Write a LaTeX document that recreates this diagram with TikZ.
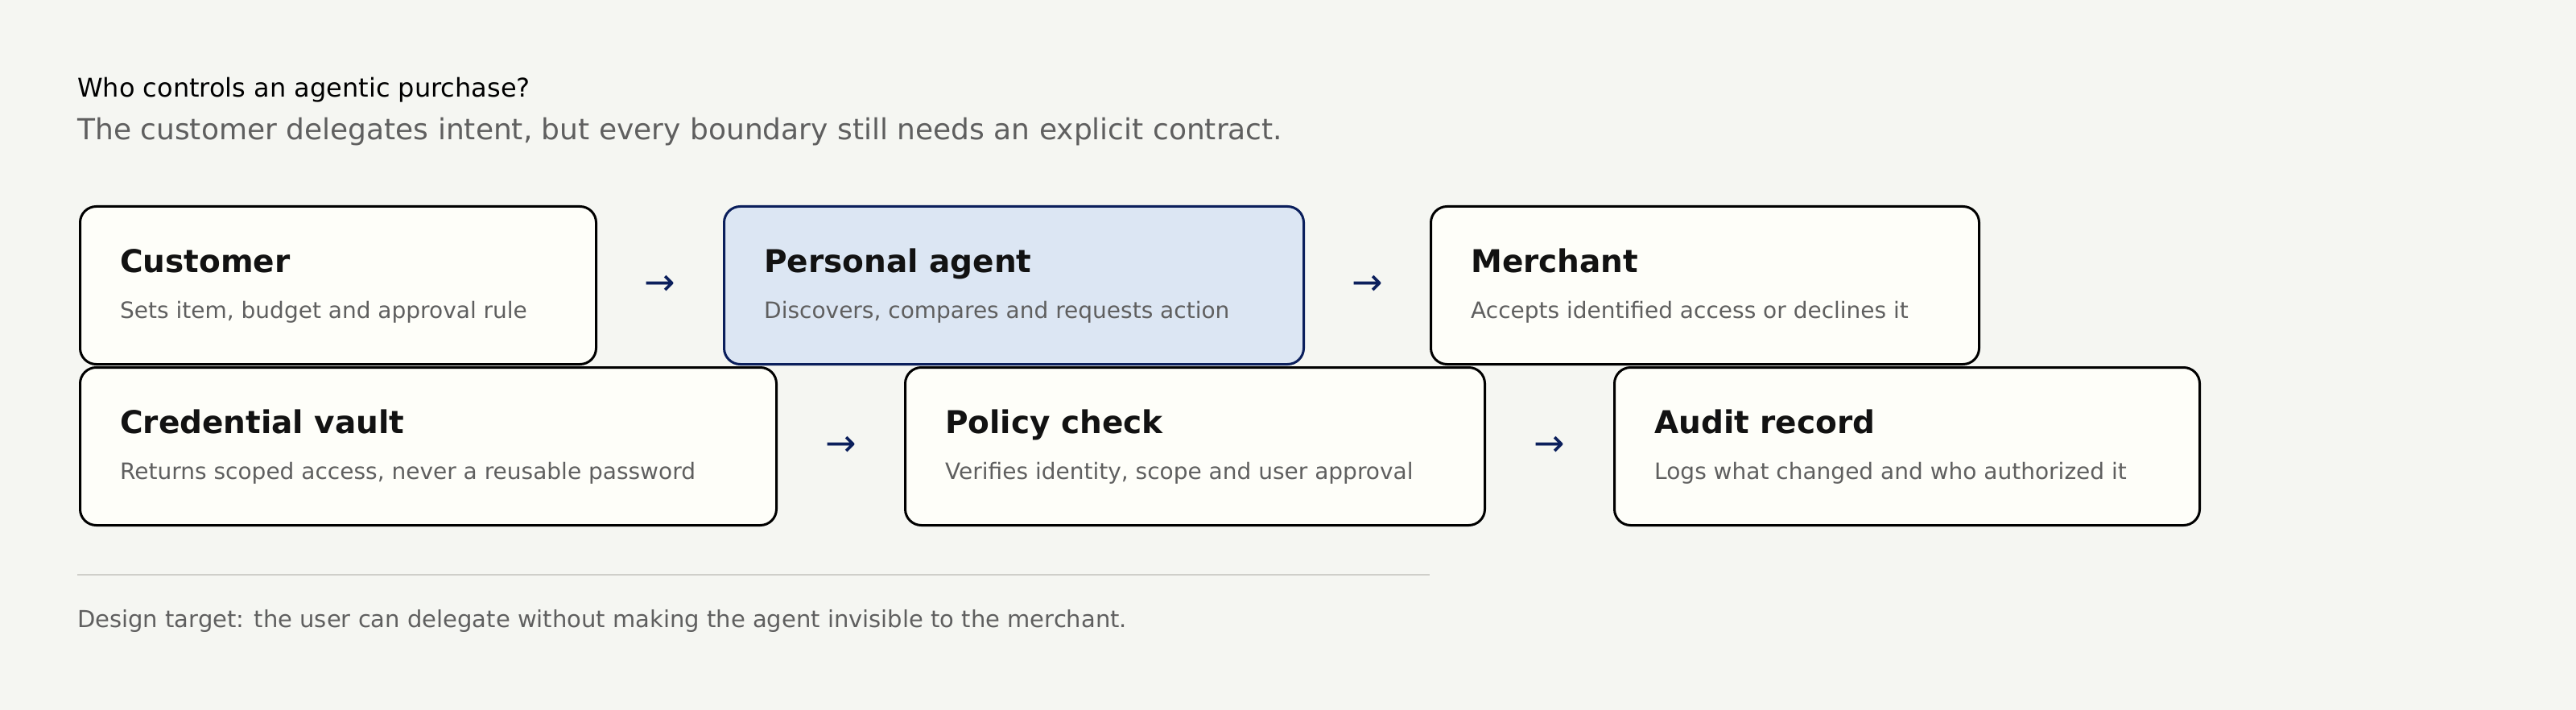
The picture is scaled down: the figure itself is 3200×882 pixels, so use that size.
\documentclass[tikz,border=0pt]{standalone}
\usepackage{fontspec}
\setmainfont{DejaVu Sans}
\usetikzlibrary{calc}
\definecolor{PageBg}{HTML}{F5F6F2}
\definecolor{BoxFill}{HTML}{FEFEF9}
\definecolor{AgentFill}{HTML}{DCE6F3}
\definecolor{Navy}{HTML}{0B1F5C}
\definecolor{SoftGray}{HTML}{5F5F5F}
\definecolor{RuleGray}{HTML}{CFCFCA}

\tikzset{
  card/.style={draw=black,line width=3pt,fill=BoxFill,rounded corners=20pt,anchor=north west,minimum height=196pt,inner sep=0pt},
  agentcard/.style={card,draw=Navy,fill=AgentFill},
  head/.style={anchor=base west,inner sep=0pt,font=\fontsize{39}{44}\selectfont\bfseries,text=black!93},
  desc/.style={anchor=base west,inner sep=0pt,font=\fontsize{28}{32}\selectfont,text=SoftGray},
  flow/.style={inner sep=0pt,font=\fontsize{46}{50}\selectfont,text=Navy}
}

\begin{document}
\begin{tikzpicture}[x=1pt,y=1pt]
\fill[PageBg] (0,0) rectangle (3200,-882);
\useasboundingbox (0,0) rectangle (3200,-882);

\node[anchor=base west,inner sep=0pt,font=\fontsize{32}{36}\selectfont] (title) at (96,-121) {Who controls an agentic purchase?};
\node[anchor=base west,inner sep=0pt,font=\fontsize{36}{40}\selectfont,text=SoftGray] (subtitle) at (96,-174) {The customer delegates intent, but every boundary still needs an explicit contract.};

% first row
\node[card,minimum width=641pt] (customer) at (98,-255) {};
\node[agentcard,minimum width=720pt] (agent) at (898,-255) {};
\node[card,minimum width=681pt] (merchant) at (1776,-255) {};
% second row
\node[card,minimum width=865pt] (vault) at (98,-455) {};
\node[card,minimum width=720pt] (policy) at (1123,-455) {};
\node[card,minimum width=727pt] (audit) at (2004,-455) {};

\foreach \b/\h/\d in {customer/Customer/{Sets item, budget and approval rule},
    agent/Personal agent/{Discovers, compares and requests action},
    merchant/Merchant/{Accepts identified access or declines it},
    vault/Credential vault/{Returns scoped access, never a reusable password},
    policy/Policy check/{Verifies identity, scope and user approval},
    audit/Audit record/{Logs what changed and who authorized it}} {
  \node[head] (\b-head) at ($(\b.north west)+(51,-83)$) {\h};
  \node[desc] (\b-desc) at ($(\b.north west)+(51,-140)$) {\d};
}

\node[flow] (flow1) at ($(customer.east)!0.5!(agent.west)$) {→};
\node[flow] (flow2) at ($(agent.east)!0.5!(merchant.west)$) {→};
\node[flow] (flow3) at ($(vault.east)!0.5!(policy.west)$) {→};
\node[flow] (flow4) at ($(policy.east)!0.5!(audit.west)$) {→};

\coordinate (ruleA) at (96,-714);
\coordinate (ruleB) at (1776,-714);
\draw[RuleGray,line width=2pt] (ruleA) -- (ruleB);
\node[anchor=base west,inner sep=0pt,font=\fontsize{29}{33}\selectfont,text=SoftGray] (footer) at (96,-779) {Design target: the user can delegate without making the agent invisible to the merchant.};
\end{tikzpicture}
\end{document}
